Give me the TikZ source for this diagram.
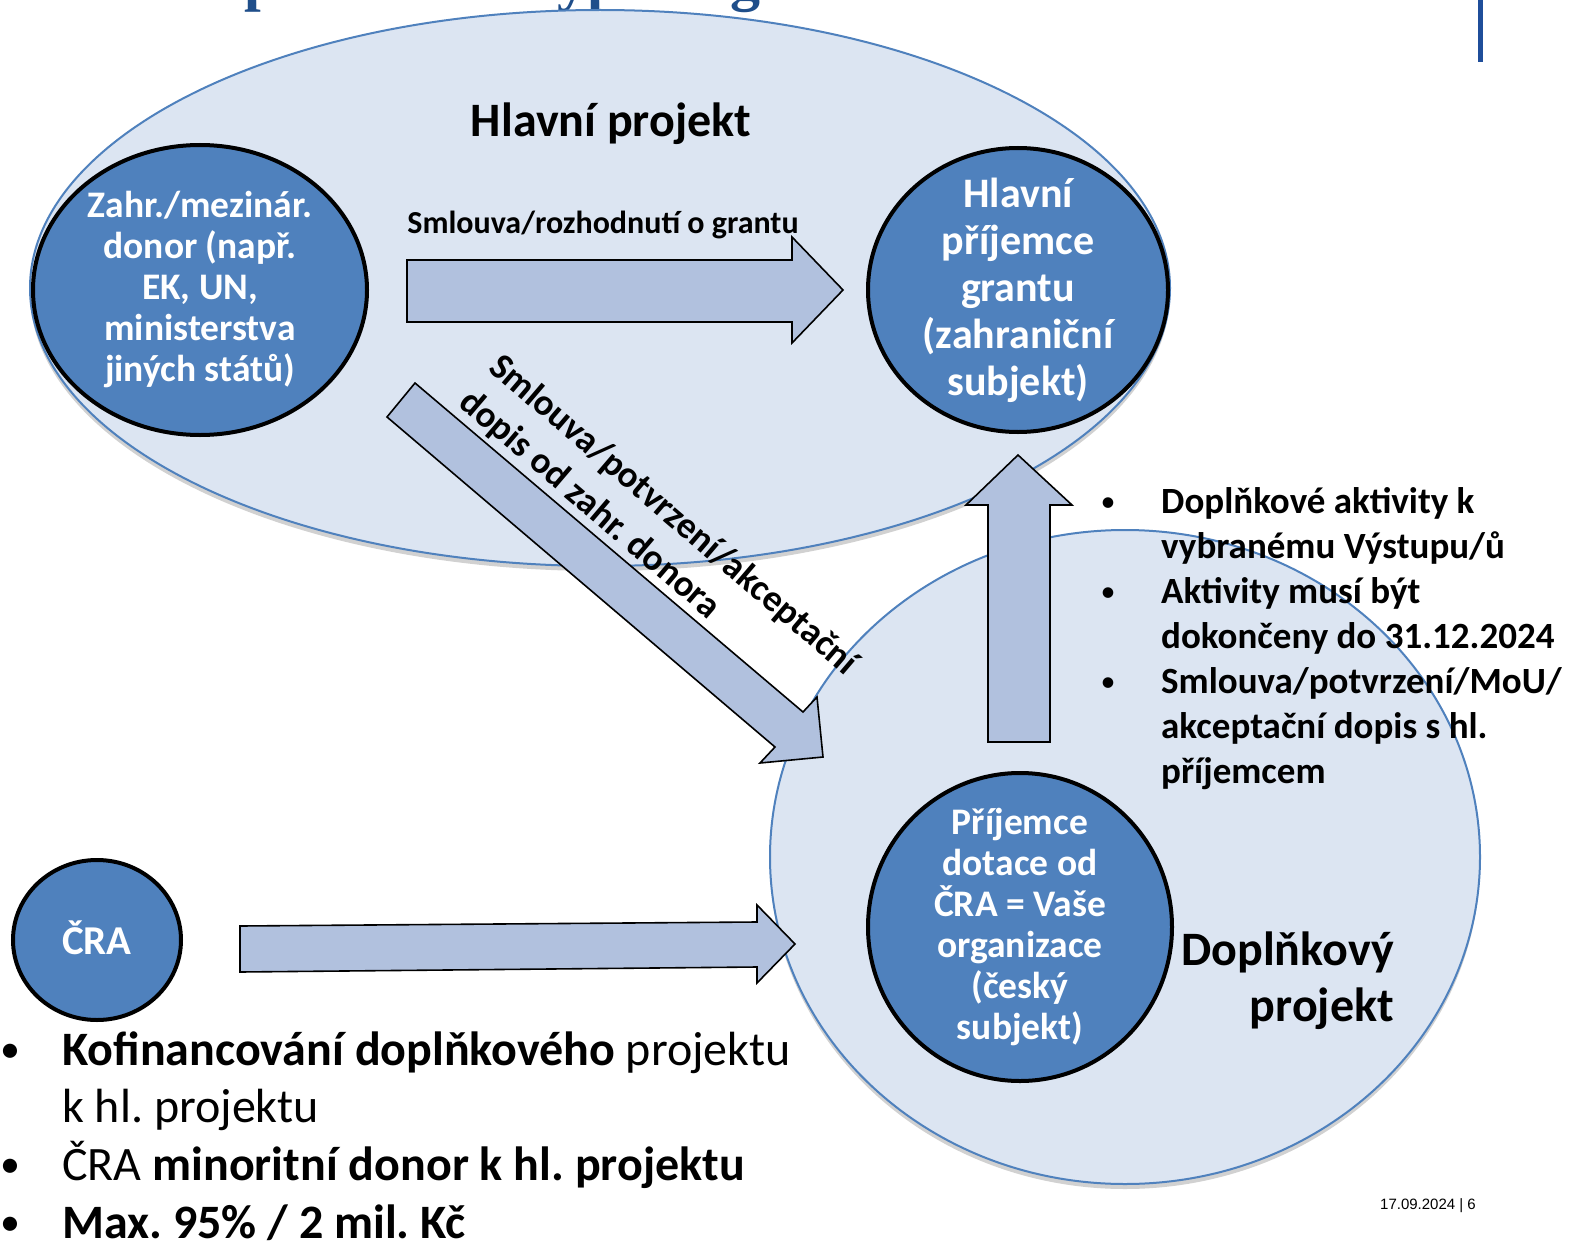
\documentclass[tikz,border=0pt]{standalone}
\usepackage{fontspec}
\setmainfont{Carlito}
\newfontfamily\arialf{Liberation Sans}
\newfontfamily\titlef{Liberation Serif}
\usetikzlibrary{shapes.geometric,shadows}
\newcommand{\myfs}[2]{\fontsize{#1}{#2}\selectfont}
\frenchspacing
\definecolor{projfill}{HTML}{DCE5F2}
\definecolor{projline}{HTML}{4F81BD}
\definecolor{actorfill}{HTML}{4F81BD}
\definecolor{arrfill}{HTML}{B1C1DE}
\definecolor{titleblue}{HTML}{1F4E8A}
\definecolor{barblue}{HTML}{1F4E9A}
\tikzset{
  projell/.style={ellipse, draw=projline, fill=projfill, line width=2pt, inner sep=0pt,
     drop shadow={shadow xshift=0pt, shadow yshift=-5pt, opacity=0.18, fill=black}},
  actor/.style={ellipse, draw=black, fill=actorfill, line width=4pt, inner sep=0pt},
  actortext/.style={text=white, align=center, inner sep=0pt},
  blockarrow/.style={draw=black, fill=arrfill, line width=1.6pt, line join=miter},
  blt/.style={anchor=base, inner sep=0pt},
  txtl/.style={anchor=base west, inner sep=0pt},
  diag/.style={anchor=base west, inner sep=0pt, rotate=-40.5, font=\bfseries\myfs{37}{46}},
  titlefrag/.style={anchor=base west, inner sep=0pt, text=titleblue, font=\titlef\bfseries\myfs{60}{70}},
}
\begin{document}
\begin{tikzpicture}[x=1pt,y=-1pt]
\useasboundingbox (0,0) rectangle (1569,1244);
\fill[white] (0,0) rectangle (1569,1244);

% cut-off title fragments and bar
\begin{scope}
\clip (0,0) rectangle (1569,1244);
\node[titlefrag] (t1) at (244,0) {p};
\node[titlefrag] (t2) at (557,0) {yp};
\node[titlefrag] (t3) at (730,0) {g};
\end{scope}
\fill[barblue] (1478,0) rectangle (1483,62);

% project ellipses
\node[projell, minimum width=1140pt, minimum height=556pt] (main) at (600,288) {};
\node[projell, minimum width=710pt, minimum height=654pt] (compl) at (1125,857) {};

% actors
\node[actor, minimum width=334pt, minimum height=290pt] (donor) at (200,290) {};
\node[actortext, font=\bfseries\myfs{37.5}{41}] (donortxt) at (donor.center)
  {Zahr./mezinár.\\donor (např.\\EK, UN,\\ministerstva\\jiných států)};
\node[actor, minimum width=300pt, minimum height=284pt] (mainrec) at (1018,290) {};
\node[actortext, font=\bfseries\myfs{42}{47}] (mainrectxt) at (mainrec.center)
  {Hlavní\\příjemce\\grantu\\(zahraniční\\subjekt)};
\node[actor, minimum width=304pt, minimum height=308pt] (czrec) at (1020,927) {};
\node[actortext, font=\bfseries\myfs{37.5}{41}] (czrectxt) at (czrec.center)
  {Příjemce\\dotace od\\ČRA = Vaše\\organizace\\(český\\subjekt)};
\node[actor, minimum width=168pt, minimum height=160pt] (cra) at (97,940) {};
\node[actortext, anchor=base, font=\bfseries\myfs{41}{48}] (cratxt) at (97,954) {ČRA};

% block arrows
\draw[blockarrow] (407,260) -- (792,260) -- (792,237) -- (843,290) -- (792,343) -- (792,322) -- (407,322) -- cycle;
\draw[blockarrow] (387,417) -- (415,383) -- (803,712) -- (817,697) -- (823,757) -- (760,763) -- (775,747) -- cycle;
\draw[blockarrow] (988,742) -- (988,505) -- (966,505) -- (1018,455) -- (1072,505) -- (1050,505) -- (1050,742) -- cycle;
\draw[blockarrow] (240,926) -- (757,922) -- (757,905) -- (795,944) -- (757,983) -- (757,967) -- (240,972) -- cycle;

% labels
\node[anchor=base, inner sep=0pt, font=\bfseries\myfs{48}{57}] (mainlbl) at (611,137) {Hlavní projekt};
\node[anchor=base, inner sep=0pt, font=\bfseries\myfs{32}{38}] (grantlbl) at (603,233) {Smlouva/rozhodnutí o grantu};
\node[diag] (diag1) at (487,370) {Smlouva/potvrzení/akceptační};
\node[diag] (diag2) at (457,405) {dopis od zahr. donora};
\node[anchor=base east, inner sep=0pt, font=\bfseries\myfs{48}{57}] (compl1) at (1394,965) {Doplňkový};
\node[anchor=base east, inner sep=0pt, font=\bfseries\myfs{48}{57}] (compl2) at (1394,1021) {projekt};

% right bullet list
\begin{scope}[every node/.append style={font=\bfseries\myfs{37}{45}}]
\node[blt, font=\myfs{30}{36}] (rb1) at (1108,511) {•};
\node[txtl] (r1) at (1161,513) {Doplňkové aktivity k};
\node[txtl] (r2) at (1161,558) {vybranému Výstupu/ů};
\node[blt, font=\myfs{30}{36}] (rb2) at (1108,601) {•};
\node[txtl] (r3) at (1161,603) {Aktivity musí být};
\node[txtl] (r4) at (1161,648) {dokončeny do 31.12.2024};
\node[blt, font=\myfs{30}{36}] (rb3) at (1108,691) {•};
\node[txtl] (r5) at (1161,693) {Smlouva/potvrzení/MoU/};
\node[txtl] (r6) at (1161,738) {akceptační dopis s hl.};
\node[txtl] (r7) at (1161,783) {příjemcem};
\end{scope}

% bottom-left bullet list
\begin{scope}[every node/.append style={font=\myfs{48}{57}}]
\node[blt, font=\myfs{40}{48}] (lb1) at (10,1062) {•};
\node[txtl] (l1) at (62,1065) {\textbf{Kofinancování doplňkového} projektu};
\node[txtl] (l2) at (62,1122) {k hl. projektu};
\node[blt, font=\myfs{40}{48}] (lb2) at (10,1177) {•};
\node[txtl] (l3) at (62,1180) {ČRA \textbf{minoritní donor k hl. projektu}};
\node[blt, font=\myfs{40}{48}] (lb3) at (10,1235) {•};
\node[txtl] (l4) at (62,1238) {\textbf{Max. 95\% / 2 mil. Kč}};
\end{scope}

% footer
\node[anchor=base east, inner sep=0pt, font=\arialf\myfs{15}{18}] (footer) at (1476,1209) {17.09.2024 | 6};
\end{tikzpicture}
\end{document}
